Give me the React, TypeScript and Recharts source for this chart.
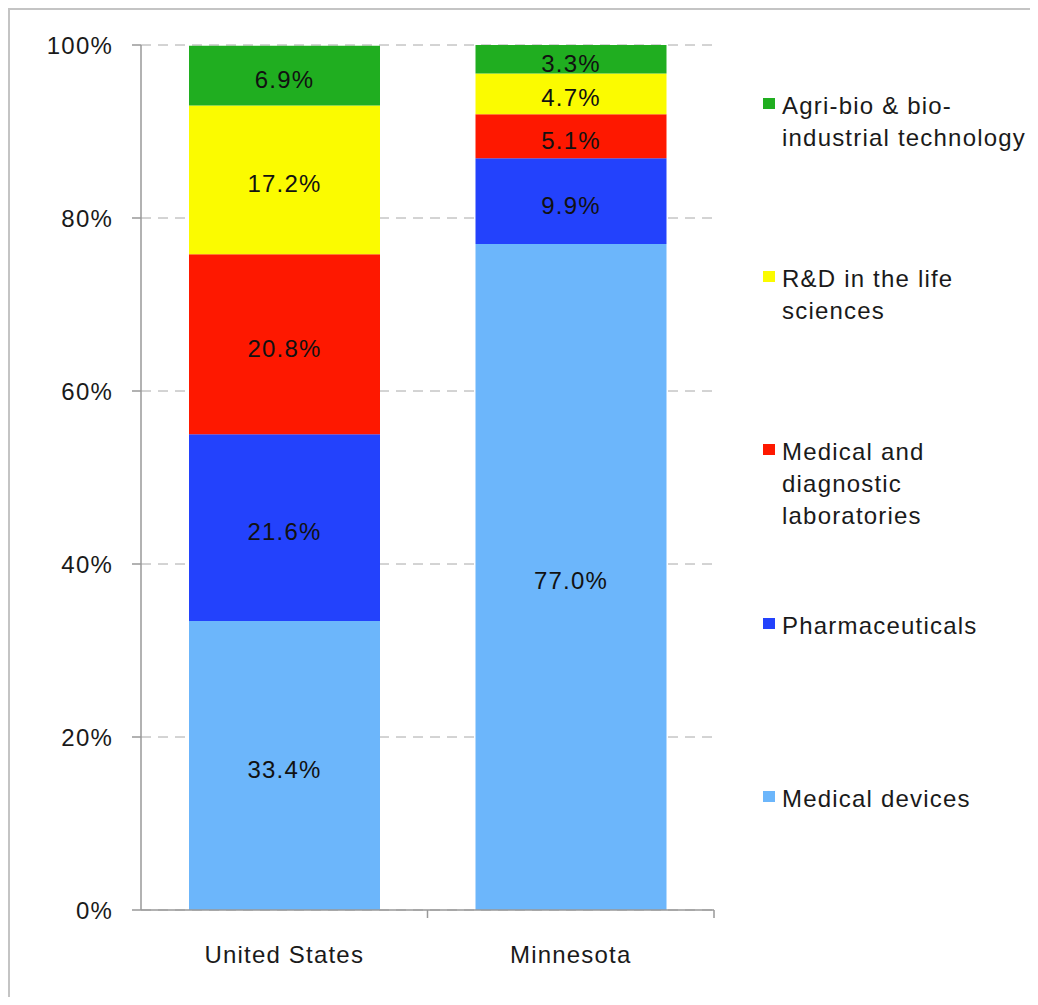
import React from "react";
import { BarChart, Bar, XAxis, YAxis, CartesianGrid, LabelList } from "recharts";

// categories and shares (%)
const categories = ["United States", "Minnesota"];
const medicalDevices = [33.4, 77.0];
const pharmaceuticals = [21.6, 9.9];
const diagnosticLabs = [20.8, 5.1];
const lifeSciencesRD = [17.2, 4.7];
const agriBio = [6.9, 3.3];
const yTicks = [0, 20, 40, 60, 80, 100];

const series = [
  { key: "devices", name: "Medical devices", values: medicalDevices, color: "#6cb6fb" },
  { key: "pharma", name: "Pharmaceuticals", values: pharmaceuticals, color: "#2342fc" },
  { key: "labs", name: "Medical and diagnostic laboratories", values: diagnosticLabs, color: "#fe1800" },
  { key: "rd", name: "R&D in the life sciences", values: lifeSciencesRD, color: "#fbfb00" },
  { key: "agri", name: "Agri-bio & bio-industrial technology", values: agriBio, color: "#20ae20" },
];

const data = categories.map((c, i) => {
  const row: any = { category: c };
  series.forEach((s) => (row[s.key] = s.values[i]));
  return row;
});

const CHART_W = 1028;
const CHART_H = 987;
const MARGIN = { top: 35, right: 324, left: 0, bottom: 0 };
const Y_W = 131;
const BAND_HALF = (CHART_W - MARGIN.right - Y_W) / categories.length / 2;

function CategoryTick(props: any) {
  const { x, y, payload } = props;
  return (
    <g>
      <line x1={x + BAND_HALF} y1={y} x2={x + BAND_HALF} y2={y + 8} stroke="#999" strokeWidth={1.5} />
      <text x={x} y={y + 53} textAnchor="middle" fill="#1a1a1a" fontSize={24}>
        {payload.value}
      </text>
    </g>
  );
}

export default function App() {
  const legendItems = [...series].reverse();
  return (
    <div
      style={{
        position: "relative",
        width: 1030,
        height: 989,
        boxSizing: "border-box",
        borderTop: "2px solid #c4c4c4",
        borderLeft: "2px solid #c4c4c4",
        background: "#fff",
        fontFamily: "'Liberation Sans', Arial, sans-serif",
        letterSpacing: "1.2px",
        color: "#1a1a1a",
      }}
    >
      <BarChart width={CHART_W} height={CHART_H} data={data} margin={MARGIN} barSize={191}>
        <CartesianGrid vertical={false} stroke="#a8a8a8" strokeDasharray="10 7" />
        <XAxis
          dataKey="category"
          height={CHART_H - 900 - MARGIN.bottom}
          axisLine={{ stroke: "#999", strokeWidth: 1.5 }}
          tickLine={false}
          tickSize={0}
          tickMargin={0}
          tick={<CategoryTick />}
        />
        <YAxis
          width={Y_W}
          domain={[0, 100]}
          ticks={yTicks}
          tickFormatter={(v: number) => `${v}%`}
          axisLine={{ stroke: "#999", strokeWidth: 1.5 }}
          tickLine={{ stroke: "#999", strokeWidth: 1.5 }}
          tickSize={9}
          tickMargin={19}
          tick={{ fill: "#1a1a1a", fontSize: 24 }}
        />
        {series.map((s) => (
          <Bar key={s.key} dataKey={s.key} name={s.name} stackId="a" fill={s.color} isAnimationActive={false}>
            <LabelList
              dataKey={s.key}
              position="center"
              dy={4}
              formatter={(v: any) => `${Number(v).toFixed(1)}%`}
              style={{ fill: "#111", fontSize: 24 }}
            />
          </Bar>
        ))}
      </BarChart>
      <div style={{ position: "absolute", left: 753, top: 80, width: 272 }}>
        {legendItems.map((s) => (
          <div key={s.key} style={{ position: "relative", height: 173.2, fontSize: 24, lineHeight: "32px" }}>
            <span
              style={{
                position: "absolute",
                left: 0,
                top: 8,
                width: 12,
                height: 11,
                background: s.color,
              }}
            />
            <div style={{ marginLeft: 19 }}>{s.name}</div>
          </div>
        ))}
      </div>
    </div>
  );
}
